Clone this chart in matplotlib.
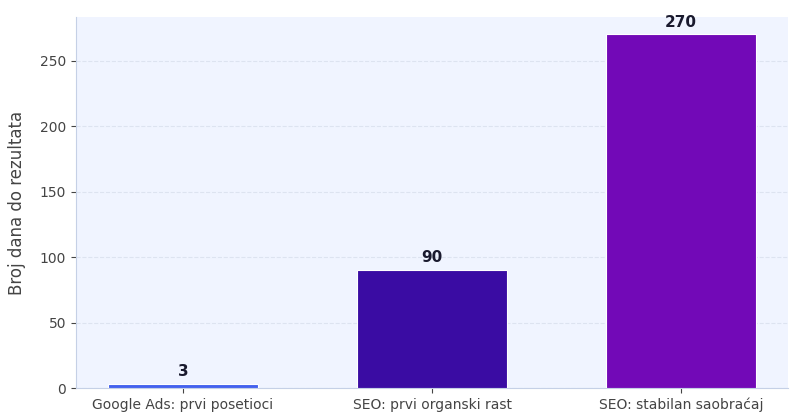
import matplotlib
matplotlib.use("Agg")
import matplotlib.pyplot as plt

categories = ["Google Ads: prvi posetioci", "SEO: prvi organski rast", "SEO: stabilan saobraćaj"]
days = [3, 90, 270]
colors = ["#4361ee", "#3a0ca3", "#7209b7"]

plt.rcParams['font.family'] = ['DejaVu Sans']

fig = plt.figure(figsize=(8, 4.2), dpi=100)
ax = fig.add_axes([0.095, 0.076, 0.89, 0.884])
ax.set_facecolor("#f0f4ff")

x = range(len(categories))
bars = ax.bar(x, days, width=0.6, color=colors, edgecolor="white", linewidth=0.8, zorder=3)

for b, v in zip(bars, days):
    ax.annotate(str(v), (b.get_x() + b.get_width() / 2, v),
                xytext=(0, 3.5), textcoords="offset points",
                ha="center", va="bottom", fontsize=11, fontweight="bold",
                color="#1a1a2e", zorder=4)

ax.set_xticks(list(x))
ax.set_xticklabels(categories, fontsize=10, color="#444444")
ax.set_ylim(0, max(days) * 1.05)
ax.set_ylabel("Broj dana do rezultata", fontsize=12, color="#444444", labelpad=10)
ax.tick_params(axis="y", labelsize=10, colors="#444444")
ax.tick_params(axis="x", colors="#444444")

ax.grid(axis="y", linestyle="--", color="#dde3f0", linewidth=0.8, zorder=0)
for s in ["top", "right"]:
    ax.spines[s].set_visible(False)
for s in ["left", "bottom"]:
    ax.spines[s].set_color("#c5d0e6")

fig.savefig("out.png", dpi=100)
